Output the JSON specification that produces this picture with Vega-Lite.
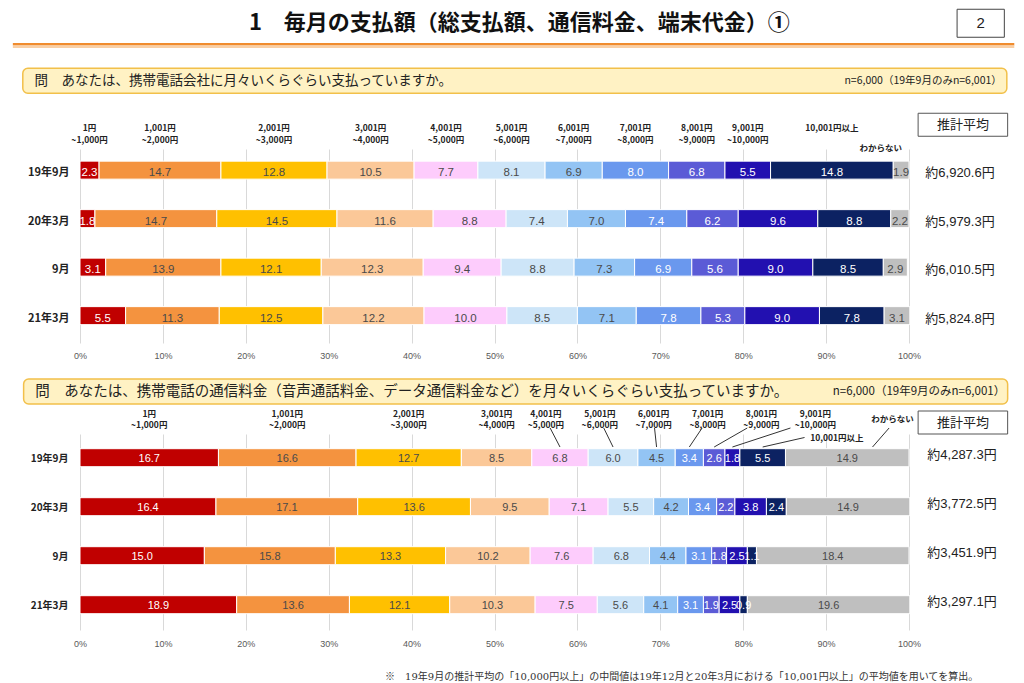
{
 "$schema": "https://vega.github.io/schema/vega-lite/v6.json",
 "background": "white",
 "padding": {"left": 11, "top": 8, "right": 0, "bottom": 0},
 "config": {"view": {"stroke": null}, "font": "Noto Sans CJK JP", "text": {"font": "Noto Sans CJK JP"}},
 "spacing": 91,
 "bounds": "flush",
 "datasets": {
  "total": [
   {"period":"19年9月","cat":"1円~1,000円","order":0,"pct":2.3},
   {"period":"19年9月","cat":"1,001円~2,000円","order":1,"pct":14.7},
   {"period":"19年9月","cat":"2,001円~3,000円","order":2,"pct":12.8},
   {"period":"19年9月","cat":"3,001円~4,000円","order":3,"pct":10.5},
   {"period":"19年9月","cat":"4,001円~5,000円","order":4,"pct":7.7},
   {"period":"19年9月","cat":"5,001円~6,000円","order":5,"pct":8.1},
   {"period":"19年9月","cat":"6,001円~7,000円","order":6,"pct":6.9},
   {"period":"19年9月","cat":"7,001円~8,000円","order":7,"pct":8.0},
   {"period":"19年9月","cat":"8,001円~9,000円","order":8,"pct":6.8},
   {"period":"19年9月","cat":"9,001円~10,000円","order":9,"pct":5.5},
   {"period":"19年9月","cat":"10,001円以上","order":10,"pct":14.8},
   {"period":"19年9月","cat":"わからない","order":11,"pct":1.9},
   {"period":"20年3月","cat":"1円~1,000円","order":0,"pct":1.8},
   {"period":"20年3月","cat":"1,001円~2,000円","order":1,"pct":14.7},
   {"period":"20年3月","cat":"2,001円~3,000円","order":2,"pct":14.5},
   {"period":"20年3月","cat":"3,001円~4,000円","order":3,"pct":11.6},
   {"period":"20年3月","cat":"4,001円~5,000円","order":4,"pct":8.8},
   {"period":"20年3月","cat":"5,001円~6,000円","order":5,"pct":7.4},
   {"period":"20年3月","cat":"6,001円~7,000円","order":6,"pct":7.0},
   {"period":"20年3月","cat":"7,001円~8,000円","order":7,"pct":7.4},
   {"period":"20年3月","cat":"8,001円~9,000円","order":8,"pct":6.2},
   {"period":"20年3月","cat":"9,001円~10,000円","order":9,"pct":9.6},
   {"period":"20年3月","cat":"10,001円以上","order":10,"pct":8.8},
   {"period":"20年3月","cat":"わからない","order":11,"pct":2.2},
   {"period":"9月","cat":"1円~1,000円","order":0,"pct":3.1},
   {"period":"9月","cat":"1,001円~2,000円","order":1,"pct":13.9},
   {"period":"9月","cat":"2,001円~3,000円","order":2,"pct":12.1},
   {"period":"9月","cat":"3,001円~4,000円","order":3,"pct":12.3},
   {"period":"9月","cat":"4,001円~5,000円","order":4,"pct":9.4},
   {"period":"9月","cat":"5,001円~6,000円","order":5,"pct":8.8},
   {"period":"9月","cat":"6,001円~7,000円","order":6,"pct":7.3},
   {"period":"9月","cat":"7,001円~8,000円","order":7,"pct":6.9},
   {"period":"9月","cat":"8,001円~9,000円","order":8,"pct":5.6},
   {"period":"9月","cat":"9,001円~10,000円","order":9,"pct":9.0},
   {"period":"9月","cat":"10,001円以上","order":10,"pct":8.5},
   {"period":"9月","cat":"わからない","order":11,"pct":2.9},
   {"period":"21年3月","cat":"1円~1,000円","order":0,"pct":5.5},
   {"period":"21年3月","cat":"1,001円~2,000円","order":1,"pct":11.3},
   {"period":"21年3月","cat":"2,001円~3,000円","order":2,"pct":12.5},
   {"period":"21年3月","cat":"3,001円~4,000円","order":3,"pct":12.2},
   {"period":"21年3月","cat":"4,001円~5,000円","order":4,"pct":10.0},
   {"period":"21年3月","cat":"5,001円~6,000円","order":5,"pct":8.5},
   {"period":"21年3月","cat":"6,001円~7,000円","order":6,"pct":7.1},
   {"period":"21年3月","cat":"7,001円~8,000円","order":7,"pct":7.8},
   {"period":"21年3月","cat":"8,001円~9,000円","order":8,"pct":5.3},
   {"period":"21年3月","cat":"9,001円~10,000円","order":9,"pct":9.0},
   {"period":"21年3月","cat":"10,001円以上","order":10,"pct":7.8},
   {"period":"21年3月","cat":"わからない","order":11,"pct":3.1}
  ],
  "comm": [
   {"period":"19年9月","cat":"1円~1,000円","order":0,"pct":16.7},
   {"period":"19年9月","cat":"1,001円~2,000円","order":1,"pct":16.6},
   {"period":"19年9月","cat":"2,001円~3,000円","order":2,"pct":12.7},
   {"period":"19年9月","cat":"3,001円~4,000円","order":3,"pct":8.5},
   {"period":"19年9月","cat":"4,001円~5,000円","order":4,"pct":6.8},
   {"period":"19年9月","cat":"5,001円~6,000円","order":5,"pct":6.0},
   {"period":"19年9月","cat":"6,001円~7,000円","order":6,"pct":4.5},
   {"period":"19年9月","cat":"7,001円~8,000円","order":7,"pct":3.4},
   {"period":"19年9月","cat":"8,001円~9,000円","order":8,"pct":2.6},
   {"period":"19年9月","cat":"9,001円~10,000円","order":9,"pct":1.8},
   {"period":"19年9月","cat":"10,001円以上","order":10,"pct":5.5},
   {"period":"19年9月","cat":"わからない","order":11,"pct":14.9},
   {"period":"20年3月","cat":"1円~1,000円","order":0,"pct":16.4},
   {"period":"20年3月","cat":"1,001円~2,000円","order":1,"pct":17.1},
   {"period":"20年3月","cat":"2,001円~3,000円","order":2,"pct":13.6},
   {"period":"20年3月","cat":"3,001円~4,000円","order":3,"pct":9.5},
   {"period":"20年3月","cat":"4,001円~5,000円","order":4,"pct":7.1},
   {"period":"20年3月","cat":"5,001円~6,000円","order":5,"pct":5.5},
   {"period":"20年3月","cat":"6,001円~7,000円","order":6,"pct":4.2},
   {"period":"20年3月","cat":"7,001円~8,000円","order":7,"pct":3.4},
   {"period":"20年3月","cat":"8,001円~9,000円","order":8,"pct":2.2},
   {"period":"20年3月","cat":"9,001円~10,000円","order":9,"pct":3.8},
   {"period":"20年3月","cat":"10,001円以上","order":10,"pct":2.4},
   {"period":"20年3月","cat":"わからない","order":11,"pct":14.9},
   {"period":"9月","cat":"1円~1,000円","order":0,"pct":15.0},
   {"period":"9月","cat":"1,001円~2,000円","order":1,"pct":15.8},
   {"period":"9月","cat":"2,001円~3,000円","order":2,"pct":13.3},
   {"period":"9月","cat":"3,001円~4,000円","order":3,"pct":10.2},
   {"period":"9月","cat":"4,001円~5,000円","order":4,"pct":7.6},
   {"period":"9月","cat":"5,001円~6,000円","order":5,"pct":6.8},
   {"period":"9月","cat":"6,001円~7,000円","order":6,"pct":4.4},
   {"period":"9月","cat":"7,001円~8,000円","order":7,"pct":3.1},
   {"period":"9月","cat":"8,001円~9,000円","order":8,"pct":1.8},
   {"period":"9月","cat":"9,001円~10,000円","order":9,"pct":2.5},
   {"period":"9月","cat":"10,001円以上","order":10,"pct":1.1},
   {"period":"9月","cat":"わからない","order":11,"pct":18.4},
   {"period":"21年3月","cat":"1円~1,000円","order":0,"pct":18.9},
   {"period":"21年3月","cat":"1,001円~2,000円","order":1,"pct":13.6},
   {"period":"21年3月","cat":"2,001円~3,000円","order":2,"pct":12.1},
   {"period":"21年3月","cat":"3,001円~4,000円","order":3,"pct":10.3},
   {"period":"21年3月","cat":"4,001円~5,000円","order":4,"pct":7.5},
   {"period":"21年3月","cat":"5,001円~6,000円","order":5,"pct":5.6},
   {"period":"21年3月","cat":"6,001円~7,000円","order":6,"pct":4.1},
   {"period":"21年3月","cat":"7,001円~8,000円","order":7,"pct":3.1},
   {"period":"21年3月","cat":"8,001円~9,000円","order":8,"pct":1.9},
   {"period":"21年3月","cat":"9,001円~10,000円","order":9,"pct":2.5},
   {"period":"21年3月","cat":"10,001円以上","order":10,"pct":0.9},
   {"period":"21年3月","cat":"わからない","order":11,"pct":19.6}
  ],
  "avg_total": [
   {"period":"19年9月","avg":6920.6},
   {"period":"20年3月","avg":5979.3},
   {"period":"9月","avg":6010.5},
   {"period":"21年3月","avg":5824.8}
  ],
  "avg_comm": [
   {"period":"19年9月","avg":4287.3},
   {"period":"20年3月","avg":3772.5},
   {"period":"9月","avg":3451.9},
   {"period":"21年3月","avg":3297.1}
  ]
 },
 "vconcat": [
  {
   "width": 829,
   "height": 194,
   "layer": [
    {
     "data": {"name": "total"},
     "transform": [{"stack": "pct", "groupby": ["period"], "sort": [{"field": "order", "order": "ascending"}], "as": ["x0", "x1"]}],
     "mark": {"type": "bar", "stroke": "white", "strokeWidth": 1},
     "encoding": {
      "y": {"field": "period", "type": "nominal", "title": null,
            "scale": {"domain": ["19年9月", "20年3月", "9月", "21年3月"], "paddingInner": 0.5, "paddingOuter": 0.25},
            "axis": {"domain": false, "ticks": false, "labelFontSize": 11, "labelFontWeight": "bold", "labelColor": "#222", "labelPadding": 11, "labelFont": "Noto Sans CJK JP"}},
      "x": {"field": "x0", "type": "quantitative", "title": null,
            "scale": {"domain": [0, 100], "nice": false},
            "axis": {"values": [0, 10, 20, 30, 40, 50, 60, 70, 80, 90, 100], "labelExpr": "datum.value + '%'", "domain": false, "ticks": false, "grid": true, "gridColor": "#D9D9D9", "labelFontSize": 9, "labelColor": "#595959", "labelPadding": 8, "labelFlush": false, "labelFont": "Liberation Sans"}},
      "x2": {"field": "x1"},
      "color": {"field": "cat", "type": "nominal", "legend": null,
                "scale": {"domain": ["1円~1,000円", "1,001円~2,000円", "2,001円~3,000円", "3,001円~4,000円", "4,001円~5,000円", "5,001円~6,000円", "6,001円~7,000円", "7,001円~8,000円", "8,001円~9,000円", "9,001円~10,000円", "10,001円以上", "わからない"],
                          "range": ["#C00000", "#F4933F", "#FFC000", "#FBC898", "#FDCCFC", "#CDE5F8", "#93C4F4", "#6A98EE", "#5B5BD6", "#2210B0", "#0C2262", "#BFBFBF"]}}
     }
    },
    {
     "data": {"name": "total"},
     "transform": [
      {"stack": "pct", "groupby": ["period"], "sort": [{"field": "order", "order": "ascending"}], "as": ["x0", "x1"]},
      {"calculate": "(datum.x0 + datum.x1) / 2", "as": "mid"}
     ],
     "mark": {"type": "text", "fontSize": 11.5, "font": "Liberation Sans"},
     "encoding": {
      "y": {"field": "period", "type": "nominal", "title": null},
      "x": {"field": "mid", "type": "quantitative", "title": null},
      "text": {"field": "pct", "type": "quantitative", "format": ".1f"},
      "color": {"condition": {"test": "indexof([0, 7, 8, 9, 10], datum.order) >= 0", "value": "white"}, "value": "#4A4A4A"}
     }
    },
    {
     "data": {"name": "total"},
     "transform": [
      {"stack": "pct", "groupby": ["period"], "sort": [{"field": "order", "order": "ascending"}], "as": ["x0", "x1"]},
      {"calculate": "(datum.x0 + datum.x1) / 2", "as": "mid"},
      {"filter": "datum.period == '19年9月' && datum.order < 11"},
      {"calculate": "replace(datum.cat, '~', '\\n~')", "as": "lab"}
     ],
     "mark": {"type": "text", "baseline": "top", "dy": -49, "fontSize": 8.5, "fontWeight": "bold", "lineBreak": "\n", "lineHeight": 11.5, "color": "#222"},
     "encoding": {
      "y": {"field": "period", "type": "nominal", "title": null},
      "x": {"field": "mid", "type": "quantitative", "title": null},
      "text": {"field": "lab", "type": "nominal"}
     }
    },
    {
     "data": {"name": "total"},
     "transform": [
      {"stack": "pct", "groupby": ["period"], "sort": [{"field": "order", "order": "ascending"}], "as": ["x0", "x1"]},
      {"calculate": "(datum.x0 + datum.x1) / 2", "as": "mid"},
      {"filter": "datum.period == '19年9月' && datum.order == 11"}
     ],
     "mark": {"type": "text", "baseline": "middle", "dy": -25, "fontSize": 8.5, "fontWeight": "bold", "color": "#222", "align": "right", "dx": 1},
     "encoding": {
      "y": {"field": "period", "type": "nominal", "title": null},
      "x": {"field": "mid", "type": "quantitative", "title": null},
      "text": {"field": "cat", "type": "nominal"}
     }
    },
    {
     "data": {"name": "avg_total"},
     "transform": [{"calculate": "'約' + format(datum.avg, ',.1f') + '円'", "as": "lab"}],
     "mark": {"type": "text", "dx": 51, "fontSize": 13, "font": "Liberation Sans, Noto Sans CJK JP", "color": "#222"},
     "encoding": {
      "y": {"field": "period", "type": "nominal", "title": null},
      "x": {"datum": 100, "type": "quantitative"},
      "text": {"field": "lab", "type": "nominal"}
     }
    },
    {
     "data": {"values": [{}]},
     "mark": {"type": "rule", "color": "#F08C2E", "strokeWidth": 2.5, "yOffset": -129},
     "encoding": {"x": {"datum": -8.1, "type": "quantitative"}, "x2": {"datum": 112.7}, "y": {"datum": "19年9月", "type": "nominal"}}
    },
    {
     "data": {"values": [{}]},
     "mark": {"type": "rule", "color": "#F9CFA5", "strokeWidth": 2.5, "yOffset": -126.5},
     "encoding": {"x": {"datum": -8.1, "type": "quantitative"}, "x2": {"datum": 112.7}, "y": {"datum": "19年9月", "type": "nominal"}}
    },
    {
     "data": {"values": [{}]},
     "mark": {"type": "text", "fontSize": 22, "fontWeight": "bold", "color": "#111", "dy": -150},
     "encoding": {"x": {"datum": 53.0, "type": "quantitative"}, "y": {"datum": "19年9月", "type": "nominal"}, "text": {"value": "1　毎月の支払額（総支払額、通信料金、端末代金）①"}}
    },
    {
     "data": {"values": [{}]},
     "mark": {"type": "rect", "fill": "white", "stroke": "#444", "strokeWidth": 1, "height": 28, "yOffset": -150},
     "encoding": {"x": {"datum": 105.8, "type": "quantitative"}, "x2": {"datum": 111.5}, "y": {"datum": "19年9月", "type": "nominal"}}
    },
    {
     "data": {"values": [{}]},
     "mark": {"type": "text", "fontSize": 15, "color": "#222", "dy": -150, "font": "Liberation Sans"},
     "encoding": {"x": {"datum": 108.65, "type": "quantitative"}, "y": {"datum": "19年9月", "type": "nominal"}, "text": {"value": "2"}}
    },
    {
     "data": {"values": [{}]},
     "mark": {"type": "rect", "fill": "#FFF2C4", "stroke": "#F2C04A", "strokeWidth": 1.5, "cornerRadius": 5, "height": 25, "yOffset": -92.5},
     "encoding": {"x": {"datum": -6.9, "type": "quantitative"}, "x2": {"datum": 111.8}, "y": {"datum": "19年9月", "type": "nominal"}}
    },
    {
     "data": {"values": [{}]},
     "mark": {"type": "text", "align": "left", "fontSize": 13.5, "color": "#222", "dy": -92.5},
     "encoding": {"x": {"datum": -5.5, "type": "quantitative"}, "y": {"datum": "19年9月", "type": "nominal"}, "text": {"value": "問　あなたは、携帯電話会社に月々いくらぐらい支払っていますか。"}}
    },
    {
     "data": {"values": [{}]},
     "mark": {"type": "text", "align": "right", "fontSize": 10.5, "color": "#222", "dy": -92.5},
     "encoding": {"x": {"datum": 111.2, "type": "quantitative"}, "y": {"datum": "19年9月", "type": "nominal"}, "text": {"value": "n=6,000（19年9月のみn=6,001）"}}
    },
    {
     "data": {"values": [{}]},
     "mark": {"type": "rect", "fill": "white", "stroke": "#555", "strokeWidth": 1, "height": 23, "yOffset": -48.5},
     "encoding": {"x": {"datum": 101.1, "type": "quantitative"}, "x2": {"datum": 111.9}, "y": {"datum": "19年9月", "type": "nominal"}}
    },
    {
     "data": {"values": [{}]},
     "mark": {"type": "text", "fontSize": 13, "color": "#222", "dy": -48.5},
     "encoding": {"x": {"datum": 106.5, "type": "quantitative"}, "y": {"datum": "19年9月", "type": "nominal"}, "text": {"value": "推計平均"}}
    }
   ]
  },
  {
   "width": 829,
   "height": 196,
   "layer": [
    {
     "data": {"name": "comm"},
     "transform": [{"stack": "pct", "groupby": ["period"], "sort": [{"field": "order", "order": "ascending"}], "as": ["x0", "x1"]}],
     "mark": {"type": "bar", "stroke": "white", "strokeWidth": 1},
     "encoding": {
      "y": {"field": "period", "type": "nominal", "title": null,
            "scale": {"domain": ["19年9月", "20年3月", "9月", "21年3月"], "paddingInner": 0.6, "paddingOuter": 0.3},
            "axis": {"domain": false, "ticks": false, "labelFontSize": 10, "labelFontWeight": "bold", "labelColor": "#222", "labelPadding": 12, "labelFont": "Noto Sans CJK JP"}},
      "x": {"field": "x0", "type": "quantitative", "title": null,
            "scale": {"domain": [0, 100], "nice": false},
            "axis": {"values": [0, 10, 20, 30, 40, 50, 60, 70, 80, 90, 100], "labelExpr": "datum.value + '%'", "domain": false, "ticks": false, "grid": true, "gridColor": "#D9D9D9", "labelFontSize": 9, "labelColor": "#595959", "labelPadding": 9, "labelFlush": false, "labelFont": "Liberation Sans"}},
      "x2": {"field": "x1"},
      "color": {"field": "cat", "type": "nominal", "legend": null,
                "scale": {"domain": ["1円~1,000円", "1,001円~2,000円", "2,001円~3,000円", "3,001円~4,000円", "4,001円~5,000円", "5,001円~6,000円", "6,001円~7,000円", "7,001円~8,000円", "8,001円~9,000円", "9,001円~10,000円", "10,001円以上", "わからない"],
                          "range": ["#C00000", "#F4933F", "#FFC000", "#FBC898", "#FDCCFC", "#CDE5F8", "#93C4F4", "#6A98EE", "#5B5BD6", "#2210B0", "#0C2262", "#BFBFBF"]}}
     }
    },
    {
     "data": {"name": "comm"},
     "transform": [
      {"stack": "pct", "groupby": ["period"], "sort": [{"field": "order", "order": "ascending"}], "as": ["x0", "x1"]},
      {"calculate": "(datum.x0 + datum.x1) / 2", "as": "mid"}
     ],
     "mark": {"type": "text", "fontSize": 11, "font": "Liberation Sans"},
     "encoding": {
      "y": {"field": "period", "type": "nominal", "title": null},
      "x": {"field": "mid", "type": "quantitative", "title": null},
      "text": {"field": "pct", "type": "quantitative", "format": ".1f"},
      "color": {"condition": {"test": "indexof([0, 7, 8, 9, 10], datum.order) >= 0", "value": "white"}, "value": "#4A4A4A"}
     }
    },
    {
     "data": {"name": "comm"},
     "transform": [
      {"stack": "pct", "groupby": ["period"], "sort": [{"field": "order", "order": "ascending"}], "as": ["x0", "x1"]},
      {"calculate": "(datum.x0 + datum.x1) / 2", "as": "mid"},
      {"filter": "datum.period == '19年9月' && datum.order < 10"},
      {"calculate": "datum.order < 4 ? datum.mid : 30.2 + 6.5 * datum.order", "as": "lx"},
      {"calculate": "replace(datum.cat, '~', '\\n~')", "as": "lab"}
     ],
     "mark": {"type": "text", "baseline": "top", "dy": -49, "fontSize": 8.5, "fontWeight": "bold", "lineBreak": "\n", "lineHeight": 11.5, "color": "#222"},
     "encoding": {
      "y": {"field": "period", "type": "nominal", "title": null},
      "x": {"field": "lx", "type": "quantitative", "title": null},
      "text": {"field": "lab", "type": "nominal"}
     }
    },
    {
     "data": {"name": "comm"},
     "transform": [
      {"filter": "datum.period == '19年9月' && datum.order == 10"}
     ],
     "mark": {"type": "text", "baseline": "middle", "dy": -20.5, "fontSize": 8.5, "fontWeight": "bold", "color": "#222"},
     "encoding": {
      "y": {"field": "period", "type": "nominal", "title": null},
      "x": {"datum": 91.3, "type": "quantitative"},
      "text": {"field": "cat", "type": "nominal"}
     }
    },
    {
     "data": {"name": "comm"},
     "transform": [
      {"filter": "datum.period == '19年9月' && datum.order == 11"}
     ],
     "mark": {"type": "text", "baseline": "middle", "dy": -40, "fontSize": 8.5, "fontWeight": "bold", "color": "#222"},
     "encoding": {
      "y": {"field": "period", "type": "nominal", "title": null},
      "x": {"datum": 98.0, "type": "quantitative"},
      "text": {"field": "cat", "type": "nominal"}
     }
    },
    {
     "data": {"name": "comm"},
     "transform": [
      {"stack": "pct", "groupby": ["period"], "sort": [{"field": "order", "order": "ascending"}], "as": ["x0", "x1"]},
      {"calculate": "(datum.x0 + datum.x1) / 2", "as": "mid"},
      {"filter": "datum.period == '19年9月' && datum.order >= 4"},
      {"calculate": "datum.order < 10 ? 30.2 + 6.5 * datum.order : (datum.order == 10 ? 91.3 : 98)", "as": "lx"},
      {"calculate": "datum.order < 10 ? datum.lx + (datum.mid - datum.lx) * 0.3 : (datum.order == 10 ? datum.lx - 3.9 : datum.lx - 0.4)", "as": "sx"},
      {"calculate": "datum.order == 11 ? datum.lx - 2.4 : datum.mid", "as": "ex"},
      {"fold": ["sx", "ex"], "as": ["end", "xv"]},
      {"calculate": "datum.end == 'ex' ? 'z' : (datum.order == 10 ? 'b' : 'a')", "as": "k"}
     ],
     "mark": {"type": "line", "color": "#333", "strokeWidth": 1},
     "encoding": {
      "x": {"field": "xv", "type": "quantitative", "title": null},
      "y": {"field": "period", "type": "nominal", "title": null},
      "yOffset": {"field": "k", "type": "nominal", "scale": {"type": "point", "domain": ["a", "b", "z"], "range": [-20.7, -1.7], "padding": 0}},
      "detail": {"field": "cat", "type": "nominal"},
      "order": {"field": "k", "type": "nominal"}
     }
    },
    {
     "data": {"name": "avg_comm"},
     "transform": [{"calculate": "'約' + format(datum.avg, ',.1f') + '円'", "as": "lab"}],
     "mark": {"type": "text", "dx": 53, "dy": -4, "fontSize": 13, "font": "Liberation Sans, Noto Sans CJK JP", "color": "#222"},
     "encoding": {
      "y": {"field": "period", "type": "nominal", "title": null},
      "x": {"datum": 100, "type": "quantitative"},
      "text": {"field": "lab", "type": "nominal"}
     }
    },
    {
     "data": {"values": [{}]},
     "mark": {"type": "rect", "fill": "#FFF2C4", "stroke": "#F2C04A", "strokeWidth": 1.5, "cornerRadius": 5, "height": 25, "yOffset": -67},
     "encoding": {"x": {"datum": -6.8, "type": "quantitative"}, "x2": {"datum": 111.9}, "y": {"datum": "19年9月", "type": "nominal"}}
    },
    {
     "data": {"values": [{}]},
     "mark": {"type": "text", "align": "left", "fontSize": 14.5, "color": "#222", "dy": -67},
     "encoding": {"x": {"datum": -5.4, "type": "quantitative"}, "y": {"datum": "19年9月", "type": "nominal"}, "text": {"value": "問　あなたは、携帯電話の通信料金（音声通話料金、データ通信料金など）を月々いくらぐらい支払っていますか。"}}
    },
    {
     "data": {"values": [{}]},
     "mark": {"type": "text", "align": "right", "fontSize": 11.5, "color": "#222", "dy": -67},
     "encoding": {"x": {"datum": 111.6, "type": "quantitative"}, "y": {"datum": "19年9月", "type": "nominal"}, "text": {"value": "n=6,000（19年9月のみn=6,001）"}}
    },
    {
     "data": {"values": [{}]},
     "mark": {"type": "rect", "fill": "white", "stroke": "#555", "strokeWidth": 1, "height": 23, "yOffset": -36},
     "encoding": {"x": {"datum": 101.1, "type": "quantitative"}, "x2": {"datum": 111.9}, "y": {"datum": "19年9月", "type": "nominal"}}
    },
    {
     "data": {"values": [{}]},
     "mark": {"type": "text", "fontSize": 13, "color": "#222", "dy": -36},
     "encoding": {"x": {"datum": 106.5, "type": "quantitative"}, "y": {"datum": "19年9月", "type": "nominal"}, "text": {"value": "推計平均"}}
    },
    {
     "data": {"values": [{}]},
     "mark": {"type": "text", "align": "left", "fontSize": 10, "color": "#333", "dy": 71, "font": "DejaVu Serif, Noto Sans CJK JP"},
     "encoding": {"x": {"datum": 36.8, "type": "quantitative"}, "y": {"datum": "21年3月", "type": "nominal"}, "text": {"value": "※　19年9月の推計平均の「10,000円以上」の中間値は19年12月と20年3月における「10,001円以上」の平均値を用いてを算出。"}}
    }
   ]
  }
 ]
}
